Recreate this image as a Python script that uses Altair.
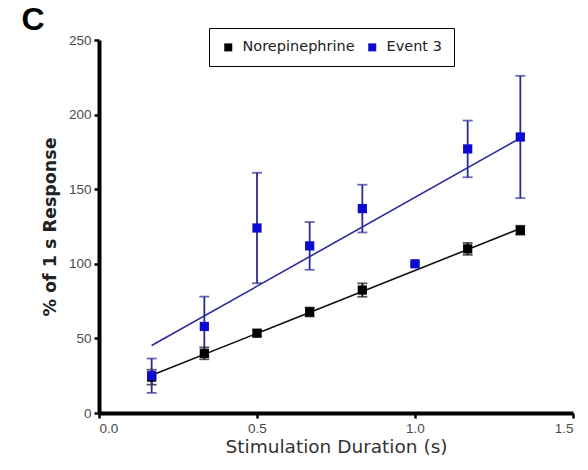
import altair as alt
import pandas as pd

# Stimulation durations (s) and responses (% of 1 s response), mean ± SEM
ne_x = [1/6, 2/6, 3/6, 4/6, 5/6, 7/6, 8/6]
ne_y = [24, 40, 53.5, 67.7, 82.4, 110, 122.5]
ne_err = [5, 4, 2, 3, 4.5, 4, 3]

ev_x = [1/6, 2/6, 3/6, 4/6, 5/6, 6/6, 7/6, 8/6]
ev_y = [25, 58, 124, 112, 137, 100, 177, 185]
ev_err = [11.5, 20, 37, 16, 16, 1, 19, 41]

series_names = ["Norepinephrine", "Event 3"]
series_fill = ["#000000", "#0a0ad0"]
series_line = ["#111111", "#2a2a9a"]

rows = []
for name, xs, ys, es in [(series_names[0], ne_x, ne_y, ne_err),
                         (series_names[1], ev_x, ev_y, ev_err)]:
    for x, y, e in zip(xs, ys, es):
        rows.append({"dur": x, "resp": y, "lo": y - e, "hi": y + e, "series": name})
df = pd.DataFrame(rows)

xscale = alt.Scale(domain=[0, 1.5], nice=False)
yscale = alt.Scale(domain=[0, 250], nice=False)

fill_enc = alt.Fill("series:N",
                    scale=alt.Scale(domain=series_names, range=series_fill),
                    legend=alt.Legend(title=None, orient="none", legendX=110, legendY=-12,
                                      direction="horizontal", symbolType="square",
                                      symbolSize=64, labelFontSize=14.5, labelColor="#222",
                                      labelFont="DejaVu Sans", strokeColor="black",
                                      padding=12, columnPadding=10, symbolStrokeWidth=0,
                                      fillColor="white", labelOffset=7))

x_enc = alt.X("dur:Q", scale=xscale,
              axis=alt.Axis(values=[0, 0.5, 1.0, 1.5], format=".1f",
                            title="Stimulation Duration (s)", titleFontSize=18.5,
                            titleFont="DejaVu Sans",
                            titleFontWeight="normal", titleColor="#333",
                            titlePadding=3))
y_enc = alt.Y("resp:Q", scale=yscale,
              axis=alt.Axis(values=[0, 50, 100, 150, 200, 250],
                            title="% of 1 s Response", titleFontSize=17.5,
                            titleFont="DejaVu Sans",
                            titleFontWeight="bold", titleColor="#222",
                            titlePadding=9))

base = alt.Chart(df)

# Linear fit and SEM error bars, one set per series
series_layers = []
for name, lc in zip(series_names, series_line):
    sub = base.transform_filter(alt.datum.series == name)
    fit = sub.transform_regression("dur", "resp").mark_line(
        strokeWidth=1.6, color=lc).encode(x=x_enc, y=y_enc)
    bar = sub.mark_rule(strokeWidth=1.8, color=lc).encode(
        x="dur:Q", y="lo:Q", y2="hi:Q")
    cap_hi = sub.mark_tick(thickness=1.8, size=10, orient="horizontal",
                           color=lc).encode(x="dur:Q", y="hi:Q")
    cap_lo = sub.mark_tick(thickness=1.8, size=10, orient="horizontal",
                           color=lc).encode(x="dur:Q", y="lo:Q")
    series_layers += [fit, bar, cap_hi, cap_lo]

points = base.mark_square(size=85, opacity=1, strokeWidth=0).encode(
    x="dur:Q", y="resp:Q", fill=fill_enc,
    order=alt.Order("series:N", sort="descending"))

panel = alt.Chart(pd.DataFrame({"t": ["C"]})).mark_text(
    fontSize=32, fontWeight="bold", font="Liberation Sans", color="black",
    align="center", baseline="middle").encode(
    text="t:N", x=alt.value(-66), y=alt.value(-20))

chart = alt.layer(*series_layers, points, panel).properties(
    width=474, height=373,
    autosize=alt.AutoSizeParams(type="none"),
    padding={"left": 99, "top": 40, "right": 15, "bottom": 57},
).configure_view(stroke=None).configure_axis(
    grid=False, domainColor="black", domainWidth=4, tickColor="black",
    tickWidth=2.5, tickSize=5, labelColor="#4a4a4a", labelFontSize=13.5,
    labelFont="Liberation Sans", labelPadding=3,
)

chart.save("out.html", embed_options={"renderer": "svg", "actions": False})
